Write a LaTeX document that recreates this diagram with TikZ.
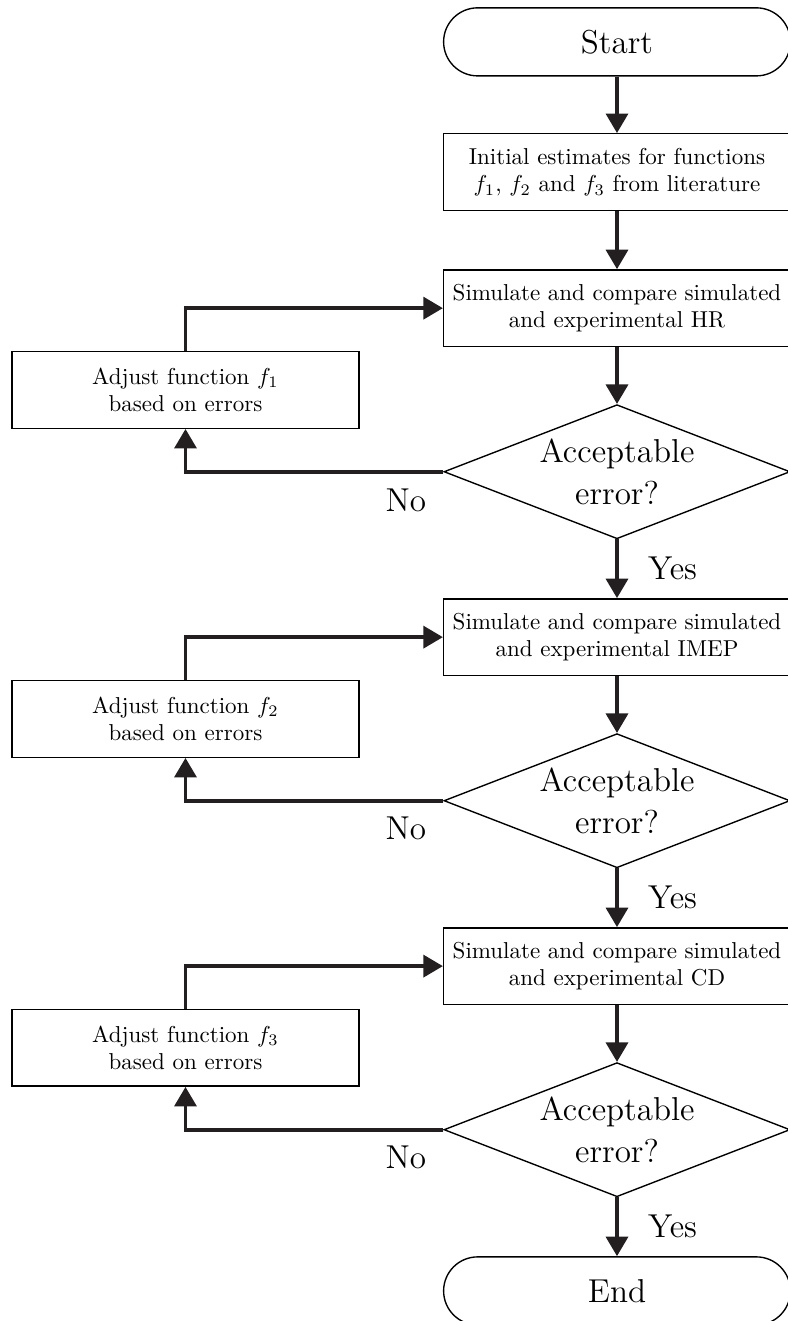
\documentclass[tikz,border=0pt]{standalone}
\usepackage{amsmath,amssymb}
\usetikzlibrary{positioning,calc,arrows.meta,shapes.geometric}
\definecolor{flowline}{HTML}{231F20}
\tikzset{
  flow/.style={-{Triangle[length=8.5pt,width=9.5pt]},line width=1.7pt,draw=flowline},
  proc/.style={rectangle,draw,line width=0.6pt,minimum width=5.3cm,minimum height=1.17cm,align=center,inner sep=3pt},
  term/.style={rectangle,rounded corners=0.52cm,draw,line width=0.6pt,minimum width=5.3cm,minimum height=1.04cm,font=\Large},
  % decision diamonds are kept at a fixed size, the text fits inside
  decide/.style={diamond,draw,line width=0.6pt,aspect=2.58,inner sep=1pt,minimum width=5.29cm,minimum height=2.05cm,
                 align=center,font=\Large},
  lab/.style={font=\Large},
}
\begin{document}
\begin{tikzpicture}
  \useasboundingbox (0,0) rectangle (12.03,-20.19);
  \node[term] (start) at (9.43,-0.64) {Start};
  \node[proc] (init) at (9.43,-2.63) {Initial estimates for functions\\$f_1$, $f_2$ and $f_3$ from literature};
  \draw[flow] (start) -- (init);
  % one calibration loop per function
  \foreach \i/\q/\prev in {1/HR/init,2/IMEP/d1,3/CD/d2} {
    \begin{scope}[yshift={-5.028cm*(\i-1)}]
      \node[proc] (sim\i) at (9.43,-4.71) {Simulate and compare simulated\\and experimental \q};
      \node[decide] (d\i) at (9.43,-7.21) {Acceptable\\error?};
      \node[proc] (adj\i) at (2.835,-5.96) {Adjust function $f_\i$\\based on errors};
    \end{scope}
    \ifnum\i>1
      \draw[flow] (\prev) -- node[lab,midway,right=0.33cm] (yes\i) {Yes} (sim\i);
    \else
      \draw[flow] (\prev) -- (sim\i);
    \fi
    \draw[flow] (sim\i) -- (d\i);
    \draw[flow] (adj\i.north) |- (sim\i.west);
    \draw[flow] (d\i.west) -| (adj\i.south);
    \node[lab] (no\i) at ($(d\i.west)+(-0.57,-0.43)$) {No};
  }
  \node[term] (end) at (9.43,-19.73) {End};
  \draw[flow] (d3) -- node[lab,midway,right=0.33cm] (yes4) {Yes} (end);
\end{tikzpicture}
\end{document}
